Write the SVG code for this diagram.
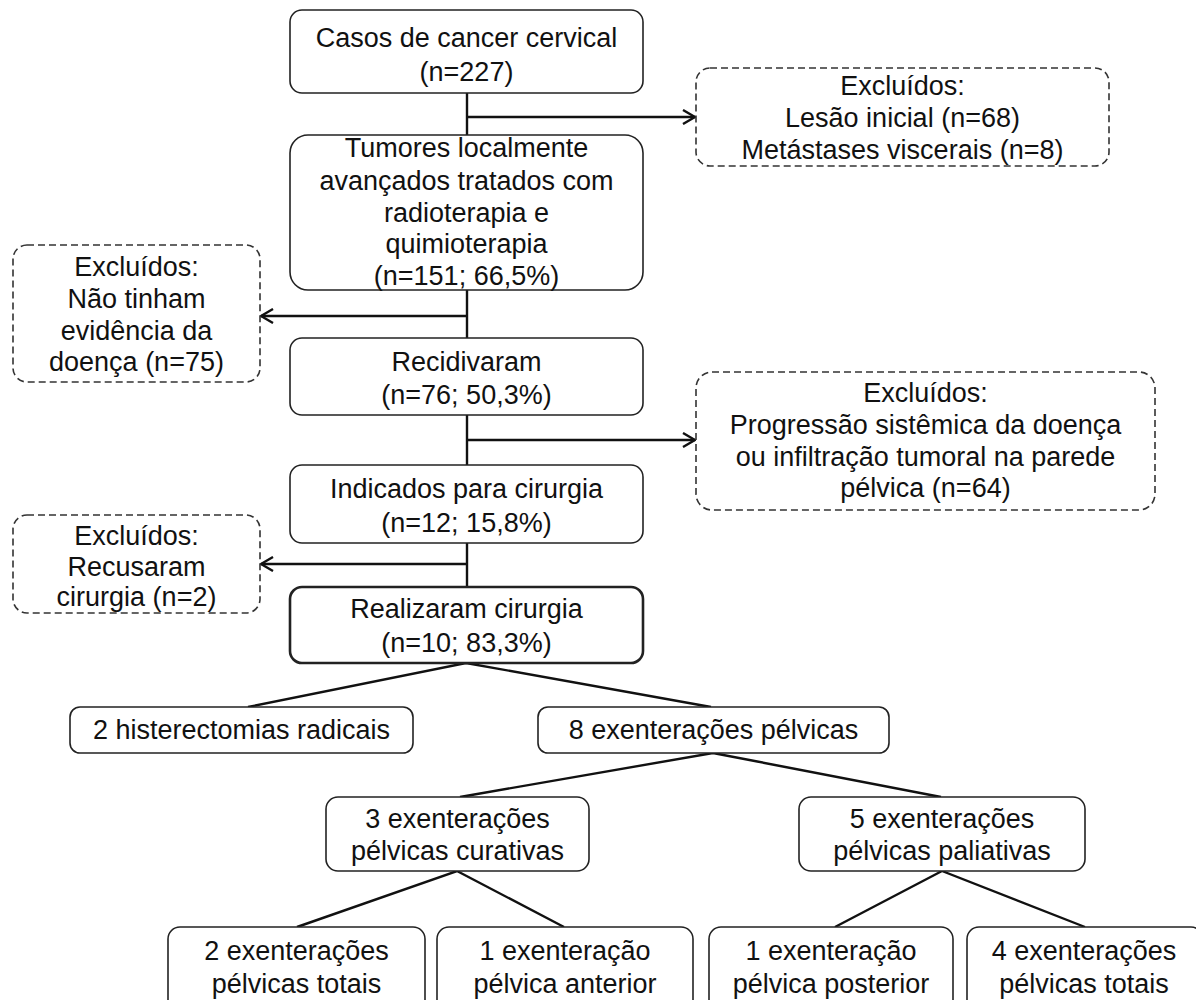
<svg xmlns="http://www.w3.org/2000/svg" width="1196" height="1000" viewBox="0 0 1196 1000">
<style>
  .box { fill: #fff; stroke: #222; stroke-width: 1.6; }
  .bold { stroke-width: 2.6; }
  .dash { fill: #fff; stroke: #333; stroke-width: 1.6; stroke-dasharray: 7 4; }
  .ln { fill: none; stroke: #111; stroke-width: 2.4; }
  text { font-family: "Liberation Sans", Arial, sans-serif; font-size: 27px; fill: #111; text-anchor: middle; }
</style>
<defs>
  <marker id="arr" viewBox="0 0 14 16" refX="13" refY="8" markerWidth="14" markerHeight="16" markerUnits="userSpaceOnUse" orient="auto">
    <path d="M1,1 L13,8 L1,15" fill="none" stroke="#111" stroke-width="2.4"/>
  </marker>
</defs>
<rect width="1196" height="1000" fill="#fff"/>

<g id="connectors">
  <line class="ln" x1="467" y1="93" x2="467" y2="135"/>
  <line class="ln" x1="467" y1="290" x2="467" y2="338"/>
  <line class="ln" x1="467" y1="415" x2="467" y2="465"/>
  <line class="ln" x1="467" y1="543" x2="467" y2="587"/>
  <line class="ln" x1="467" y1="117" x2="695" y2="117" marker-end="url(#arr)"/>
  <line class="ln" x1="467" y1="316" x2="261" y2="316" marker-end="url(#arr)"/>
  <line class="ln" x1="467" y1="440" x2="695" y2="440" marker-end="url(#arr)"/>
  <line class="ln" x1="467" y1="564" x2="261" y2="564" marker-end="url(#arr)"/>
  <polyline class="ln" points="248,707 466,663 711,707"/>
  <polyline class="ln" points="460,797 713,753 941,797"/>
  <polyline class="ln" points="297,927 457,871 564,927"/>
  <polyline class="ln" points="835,927 942,871 1085,927"/>
</g>

<g id="n1">
  <rect class="box" x="290" y="10" width="353" height="83" rx="12"/>
  <text x="466.5" y="47">Casos de cancer cervical</text>
  <text x="466.5" y="81">(n=227)</text>
</g>
<g id="e1">
  <rect class="dash" x="696" y="68" width="413" height="98" rx="14"/>
  <text x="902.5" y="95">Excluídos:</text>
  <text x="902.5" y="127">Lesão inicial (n=68)</text>
  <text x="902.5" y="159">Metástases viscerais (n=8)</text>
</g>
<g id="n2">
  <rect class="box" x="290" y="135" width="353" height="155" rx="18"/>
  <text x="466.5" y="157">Tumores localmente</text>
  <text x="466.5" y="190">avançados tratados com</text>
  <text x="466.5" y="222">radioterapia e</text>
  <text x="466.5" y="253">quimioterapia</text>
  <text x="466.5" y="285">(n=151; 66,5%)</text>
</g>
<g id="e2">
  <rect class="dash" x="13" y="245" width="247" height="137" rx="14"/>
  <text x="136.5" y="276">Excluídos:</text>
  <text x="136.5" y="308">Não tinham</text>
  <text x="136.5" y="340">evidência da</text>
  <text x="136.5" y="371">doença (n=75)</text>
</g>
<g id="n3">
  <rect class="box" x="290" y="338" width="353" height="77" rx="12"/>
  <text x="466.5" y="371">Recidivaram</text>
  <text x="466.5" y="404">(n=76; 50,3%)</text>
</g>
<g id="e3">
  <rect class="dash" x="696" y="372" width="459" height="138" rx="16"/>
  <text x="925.5" y="402">Excluídos:</text>
  <text x="925.5" y="434">Progressão sistêmica da doença</text>
  <text x="925.5" y="466">ou infiltração tumoral na parede</text>
  <text x="925.5" y="497">pélvica (n=64)</text>
</g>
<g id="n4">
  <rect class="box" x="290" y="465" width="353" height="78" rx="12"/>
  <text x="466.5" y="498">Indicados para cirurgia</text>
  <text x="466.5" y="532">(n=12; 15,8%)</text>
</g>
<g id="e4">
  <rect class="dash" x="13" y="515" width="247" height="98" rx="14"/>
  <text x="136.5" y="545">Excluídos:</text>
  <text x="136.5" y="576">Recusaram</text>
  <text x="136.5" y="606">cirurgia (n=2)</text>
</g>
<g id="n5">
  <rect class="box bold" x="290" y="587" width="353" height="76" rx="12"/>
  <text x="466.5" y="618">Realizaram cirurgia</text>
  <text x="466.5" y="652">(n=10; 83,3%)</text>
</g>
<g id="n6">
  <rect class="box" x="70" y="707" width="343" height="46" rx="10"/>
  <text x="241.5" y="739">2 histerectomias radicais</text>
</g>
<g id="n7">
  <rect class="box" x="538" y="707" width="351" height="46" rx="10"/>
  <text x="713.5" y="739">8 exenterações pélvicas</text>
</g>
<g id="n8">
  <rect class="box" x="326" y="797" width="263" height="74" rx="12"/>
  <text x="457.5" y="828">3 exenterações</text>
  <text x="457.5" y="860">pélvicas curativas</text>
</g>
<g id="n9">
  <rect class="box" x="799" y="797" width="286" height="74" rx="12"/>
  <text x="942" y="828">5 exenterações</text>
  <text x="942" y="860">pélvicas paliativas</text>
</g>
<g id="n10">
  <rect class="box" x="168" y="927" width="257" height="90" rx="12"/>
  <text x="296.5" y="960">2 exenterações</text>
  <text x="296.5" y="993">pélvicas totais</text>
</g>
<g id="n11">
  <rect class="box" x="437" y="927" width="256" height="90" rx="12"/>
  <text x="565" y="960">1 exenteração</text>
  <text x="565" y="993">pélvica anterior</text>
</g>
<g id="n12">
  <rect class="box" x="709" y="927" width="244" height="90" rx="12"/>
  <text x="831" y="960">1 exenteração</text>
  <text x="831" y="993">pélvica posterior</text>
</g>
<g id="n13">
  <rect class="box" x="967" y="927" width="236" height="90" rx="12"/>
  <text x="1084" y="960">4 exenterações</text>
  <text x="1084" y="993">pélvicas totais</text>
</g>
</svg>
